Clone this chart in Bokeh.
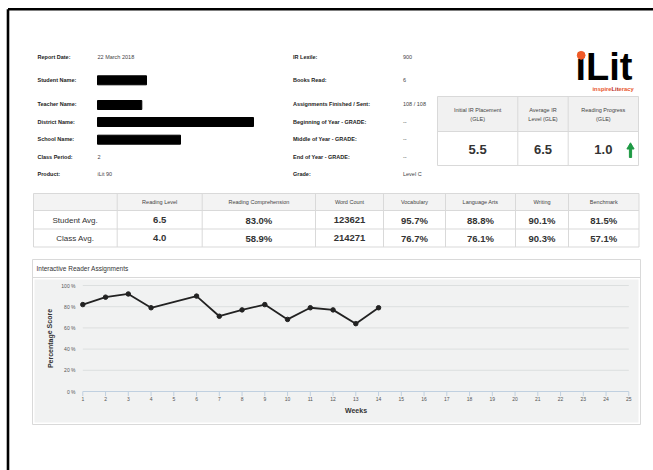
from bokeh.plotting import figure
from bokeh.models import Range1d
from bokeh.core.properties import value
from bokeh.embed import file_html
from bokeh.resources import INLINE

# ---------------- data ----------------
info_labels_left = ["Report Date:", "Student Name:", "Teacher Name:", "District Name:",
                    "School Name:", "Class Period:", "Product:"]
info_values_left = ["22 March 2018", "", "", "", "", "2", "iLit 90"]
info_labels_mid = ["IR Lexile:", "Books Read:", "Assignments Finished / Sent:",
                   "Beginning of Year - GRADE:", "Middle of Year - GRADE:",
                   "End of Year - GRADE:", "Grade:"]
info_values_mid = ["900", "6", "108 / 108", "--", "--", "--", "Level C"]

gle_header_line1 = ["Initial IR Placement", "Average IR", "Reading Progress"]
gle_header_line2 = ["(GLE)", "Level (GLE)", "(GLE)"]
gle_values = [5.5, 6.5, 1.0]

stat_columns = ["Reading Level", "Reading Comprehension", "Word Count", "Vocabulary",
                "Language Arts", "Writing", "Benchmark"]
stat_rows = ["Student Avg.", "Class Avg."]
student_avg = ["6.5", "83.0%", "123621", "95.7%", "88.8%", "90.1%", "81.5%"]
class_avg = ["4.0", "58.9%", "214271", "76.7%", "76.1%", "90.3%", "57.1%"]

chart_title = "Interactive Reader Assignments"
weeks = [1, 2, 3, 4, 6, 7, 8, 9, 10, 11, 12, 13, 14]
scores = [82, 89, 92, 79, 90, 71, 77, 82, 68, 79, 77, 64, 79]
week_ticks = list(range(1, 26))
pct_ticks = [0, 20, 40, 60, 80, 100]
pct_tick_labels = ["0 %", "20 %", "40 %", "60 %", "80 %", "100 %"]

# ---------------- layout constants (pixels) ----------------
W, H = 653, 470
FONT = value("Liberation Sans")

p = figure(width=W, height=H, x_range=Range1d(0, W), y_range=Range1d(H, 0),
           min_border=0, toolbar_location=None, output_backend="svg",
           x_axis_location=None, y_axis_location=None, outline_line_color=None,
           background_fill_color="white", border_fill_color="white")
p.grid.visible = False

# chart scales mapped onto the page
PL, PR = 82.3, 628.3      # pixel of week 1 and week 25
Y0, Y100 = 391.0, 285.0   # pixel of 0 % and 100 %
ppw = (PR - PL) / 24.0
ppp = (Y0 - Y100) / 100.0
p.extra_x_ranges = {"wk": Range1d(1 - PL / ppw, 1 + (W - PL) / ppw)}
p.extra_y_ranges = {"pct": Range1d(-(H - Y0) / ppp, Y0 / ppp)}


def txt(x, y, t, size, color="#333", style="normal", align="left", baseline="middle", **kw):
    p.text(x=x, y=y, text=t, text_font=FONT, text_font_size=size, text_font_style=style,
           text_color=color, text_align=align, text_baseline=baseline, **kw)


# page frame
p.segment(x0=[7.5, 7.5], y0=[8.8, 8.8], x1=[7.5, W], y1=[H, 8.8], line_color="black", line_width=2.6)

# ---------------- header info ----------------
rows_y = [56, 79.5, 103, 121, 138.5, 156, 173.5]
txt([37] * 7, rows_y, info_labels_left, "5.5px", "#222", "bold")
txt([97] * 7, rows_y, info_values_left, "5.5px", "#444")
p.quad(left=[97, 97, 97, 97], right=[146, 141.3, 253, 180],
       top=[75.3, 100, 117, 134.7], bottom=[84.3, 109, 126, 143.7], color="black")
txt([292.5] * 7, rows_y, info_labels_mid, "5.5px", "#222", "bold")
txt([402.5] * 7, rows_y, info_values_mid, "5.5px", "#444")

# logo
LS = 38
txt([575], [79.5 - 0.35 * LS], ["iLit"], f"{LS}px", "black", "bold")
p.circle(x=[575 + 0.15 * LS], y=[79.5 - 0.65 * LS], radius=3.9, color="#f05a28")
fs = 5.8
lx = 592.0
ly = 88.0
txt([lx], [ly], ["inspire"], f"{fs}px", "#e8552a", "bold")
txt([lx + 3.279 * fs], [ly], ["Lit"], f"{fs}px", "#b5261e", "bold")
txt([lx + 4.501 * fs], [ly], ["eracy"], f"{fs}px", "#e8552a", "bold")

# GLE box
gx = [437, 517.3, 567.7, 638]
gt, gm, gb = 96, 131, 165
p.quad(left=[gx[0]], right=[gx[-1]], top=[gt], bottom=[gm], fill_color="#f1f1f1", line_color=None)
p.quad(left=[gx[0]], right=[gx[-1]], top=[gt], bottom=[gb], fill_color=None, line_color="#d9d9d9", line_width=1)
p.segment(x0=[gx[0], gx[1], gx[2]], y0=[gm, gt, gt], x1=[gx[-1], gx[1], gx[2]], y1=[gm, gb, gb],
          line_color="#d9d9d9", line_width=1)
gc = [(gx[i] + gx[i + 1]) / 2 for i in range(3)]
txt(gc, [109.5] * 3, gle_header_line1, "5.5px", "#444", align="center")
txt(gc, [118.5] * 3, gle_header_line2, "5.5px", "#444", align="center")
txt(gc, [149] * 3, [f"{v:.1f}" for v in gle_values], "13px", "#333", "bold", align="center")
p.patch(x=[628.9, 628.9, 626.4, 630.0, 633.6, 631.1, 631.1],
        y=[157, 148.5, 148.5, 142.3, 148.5, 148.5, 157], color="#1f9a45")

# ---------------- stats table ----------------
tx = [33, 116.7, 201.7, 315, 383, 445, 515, 568, 638.5]
tt, th, tm, tb = 193, 210, 228.5, 246.5
p.quad(left=[tx[0]], right=[tx[-1]], top=[tt], bottom=[th], fill_color="#f3f3f3", line_color=None)
p.quad(left=[tx[0]], right=[tx[-1]], top=[tt], bottom=[tb], fill_color=None, line_color="#d9d9d9", line_width=1)
p.segment(x0=[tx[0], tx[0]] + tx[1:-1], y0=[th, tm] + [tt] * 7,
          x1=[tx[-1], tx[-1]] + tx[1:-1], y1=[th, tm] + [tb] * 7, line_color="#d9d9d9", line_width=1)
cc = [(tx[i] + tx[i + 1]) / 2 for i in range(1, 8)]
txt(cc, [201.5] * 7, stat_columns, "5.5px", "#444", align="center")
txt(cc, [219.5] * 7, student_avg, "9.5px", "#333", "bold", align="center")
txt(cc, [237.5] * 7, class_avg, "9.5px", "#333", "bold", align="center")
txt([(tx[0] + tx[1]) / 2] * 2, [219.5, 237.5], stat_rows, "8px", "#333", align="center")

# ---------------- chart panel ----------------
p.quad(left=[32], right=[640], top=[259], bottom=[424], fill_color="white", line_color="#d9d9d9", line_width=1)
p.segment(x0=[32], y0=[277], x1=[640], y1=[277], line_color="#d9d9d9", line_width=1)
p.quad(left=[34], right=[638], top=[279], bottom=[422], fill_color="#f1f2f2", line_color=None)
txt([36], [268.3], [chart_title], "6.5px", "#333")

# grid lines
p.segment(x0=[1] * 5, x1=[25] * 5, y0=pct_ticks[1:], y1=pct_ticks[1:],
          x_range_name="wk", y_range_name="pct", line_color="#dcdfdf", line_width=1)
p.segment(x0=[1], x1=[25], y0=[0], y1=[0], x_range_name="wk", y_range_name="pct",
          line_color="#c0d0e0", line_width=1)
p.segment(x0=week_ticks, x1=week_ticks, y0=[391] * 25, y1=[395.5] * 25,
          x_range_name="wk", line_color="#c0d0e0", line_width=1)
p.text(x=week_ticks, y=[398.5] * 25, text=[str(w) for w in week_ticks], x_range_name="wk",
       text_font=FONT, text_font_size="5px", text_color="#555", text_align="center",
       text_baseline="middle")
p.text(x=[75] * 6, y=pct_ticks, text=pct_tick_labels, y_range_name="pct",
       text_font=FONT, text_font_size="5px", text_color="#555", text_align="right",
       text_baseline="middle")
txt([355.5], [409.5], ["Weeks"], "7px", "#333", "bold", align="center")
p.text(x=[49.5], y=[338], text=["Percentage Score"], angle=1.5708, text_font=FONT,
       text_font_size="7px", text_font_style="bold", text_color="#333",
       text_align="center", text_baseline="middle")

# series
p.line(weeks, scores, x_range_name="wk", y_range_name="pct", line_color="#222", line_width=1.8)
p.scatter(weeks, scores, x_range_name="wk", y_range_name="pct", size=4.5,
          fill_color="#222", line_color="#222")

open("out.html", "w").write(file_html(p, INLINE))
